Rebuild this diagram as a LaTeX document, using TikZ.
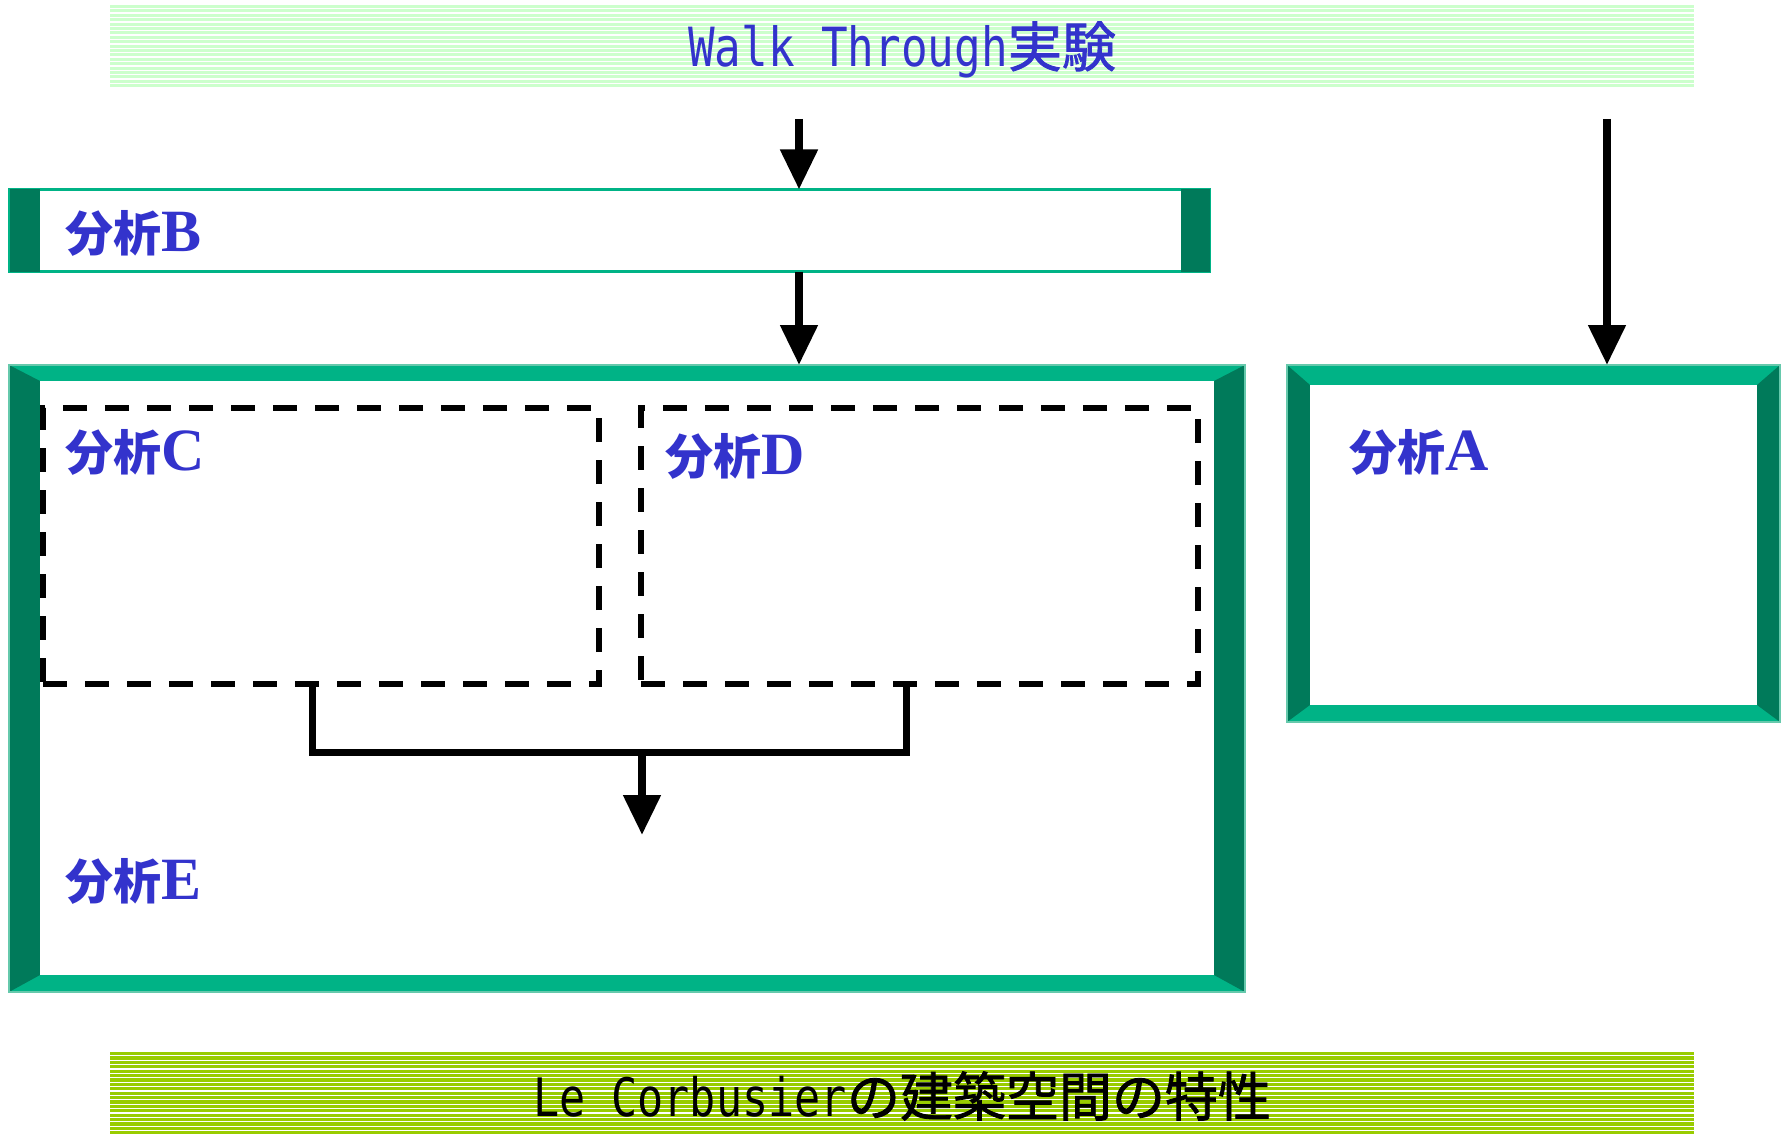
\documentclass[tikz,border=0pt]{standalone}
\usepackage{fontspec}
\setmainfont{Liberation Serif}
\newfontfamily\cjk{Noto Sans CJK JP}
\newfontfamily\cjkm[FakeBold=1.5]{Noto Sans CJK JP}
\newfontfamily\monof[FakeStretch=0.82]{DejaVu Sans Mono}
\usetikzlibrary{arrows.meta,calc}
\definecolor{lightg}{HTML}{00B386}
\definecolor{darkg}{HTML}{007A5A}
\definecolor{edgeg}{HTML}{66C9AC}
\definecolor{stripeA}{HTML}{CCFFCC}
\definecolor{stripeB}{HTML}{99CC00}
\definecolor{lblue}{HTML}{3333CC}
\newcommand\bunseki[1]{{\cjk\bfseries 分析}{\fontsize{60}{60}\selectfont\bfseries #1}}
\newcommand\bevframe[4]{%
  \fill[lightg] (#1.north west) rectangle (#1.south east);
  \fill[darkg] (#1.north west) -- ($(#1.north west)+(#2,#3)$) -- ($(#1.south west)+(#2,-#4)$) -- (#1.south west) -- cycle;
  \fill[darkg] (#1.north east) -- ($(#1.north east)+(-#2,#3)$) -- ($(#1.south east)+(-#2,-#4)$) -- (#1.south east) -- cycle;
  \fill[white] ($(#1.north west)+(#2,#3)$) rectangle ($(#1.south east)+(-#2,-#4)$);
  \draw[edgeg, line width=1.5pt] (#1.north west) rectangle (#1.south east);
}
\begin{document}
\begin{tikzpicture}[x=1pt,y=-1pt,
  arr/.style={line width=8pt, -{Triangle[length=40pt,width=36pt]}},
  area/.style={inner sep=0pt, outer sep=0pt},
  dbox/.style={draw=black, line width=5.5pt, dash pattern=on 24pt off 18pt, inner sep=0pt},
  lbl/.style={anchor=west, inner sep=0pt, text=lblue, font=\fontsize{48}{54}\selectfont},
  bracket/.style={line width=7pt, line join=miter}]
\useasboundingbox (0,0) rectangle (1782,1134);
\fill[white] (0,0) rectangle (1782,1134);

% banners
\foreach \i in {0,...,18} {
  \fill[stripeA] (110,5+\i*4.4) rectangle (1694,8.1+\i*4.4);
  \fill[stripeB] (110,1052+\i*4.4) rectangle (1694,1055.1+\i*4.4);
}
\node[area, minimum width=1584pt, minimum height=83pt] (walkband) at (902,46.5) {};
\node[area, minimum width=1584pt, minimum height=82pt] (corbband) at (902,1093) {};
\node[inner sep=0pt, text=lblue, font=\fontsize{54}{60}\selectfont] (walk) at (902,50) {{\monof Walk Through}{\cjkm 実験}};
\node[inner sep=0pt, text=black, font=\fontsize{53}{60}\selectfont] (corb) at (902,1096) {{\monof Le Corbusier}{\cjkm の建築空間の特性}};

% box B
\node[area, draw=lightg, line width=3pt, fill=white, minimum width=1200pt, minimum height=82pt] (boxB) at (609.5,230.5) {};
\fill[darkg] (boxB.north west) rectangle ($(boxB.south west)+(30,0)$);
\fill[darkg] ($(boxB.north east)+(-29,0)$) rectangle (boxB.south east);
\node[lbl] (lblB) at (65,233) {\bunseki{B}};

% big frame
\node[area, minimum width=1236pt, minimum height=627pt] (big) at (627,678.5) {};
\bevframe{big}{31}{16}{17}
% frame A
\node[area, minimum width=493pt, minimum height=357pt] (boxA) at (1533.5,543.5) {};
\bevframe{boxA}{23}{20}{17}

% dashed boxes
\node[dbox, minimum width=556pt, minimum height=276pt] (boxC) at (321,546) {};
\node[dbox, minimum width=557pt, minimum height=276pt] (boxD) at (919.5,546) {};

\node[lbl] (lblC) at (65,452) {\bunseki{C}};
\node[lbl] (lblD) at (665,456) {\bunseki{D}};
\node[lbl] (lblE) at (65,881) {\bunseki{E}};
\node[lbl] (lblA) at (1349,452) {\bunseki{A}};

% arrows
\coordinate (s1) at (799,119);
\coordinate (s2) at (1607,119);
\draw[arr] (s1) -- (s1 |- boxB.north);
\draw[arr] (boxB.south -| s1) -- (s1 |- big.north);
\draw[arr] (s2) -- (s2 |- boxA.north);

% bracket
\coordinate (bl) at (312,684);
\coordinate (br) at (906,684);
\coordinate (bm) at (642,752);
\coordinate (bt) at (642,835);
\draw[bracket] (bl) -- (bl |- bm) -- (br |- bm) -- (br);
\draw[arr] (bm) -- (bt);
\end{tikzpicture}
\end{document}
